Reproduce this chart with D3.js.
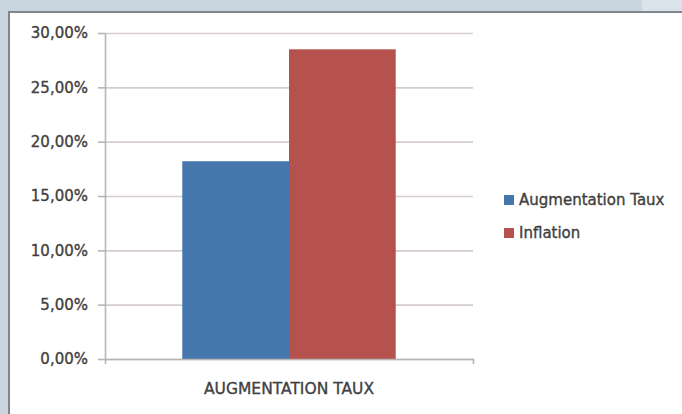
<!DOCTYPE html>
<html>
<head>
<meta charset="utf-8">
<script src="https://cdn.jsdelivr.net/npm/d3@7"></script>
<style>
  html, body { margin: 0; padding: 0; background: #c9d6df; overflow: hidden; }
  text { font-family: "DejaVu Sans", sans-serif; fill: #404040; stroke: #404040; stroke-width: 0.35px; }
</style>
</head>
<body>
<div id="chart"></div>
<script>
var width = 682,
    height = 414;

// data
var categories = ["AUGMENTATION TAUX"];
var seriesNames = ["Augmentation Taux", "Inflation"];
var seriesValues = [[0.182], [0.285]];
var seriesColors = ["#4577ad", "#b5524d"];
var yTicks = [0, 0.05, 0.10, 0.15, 0.20, 0.25, 0.30];

var frLocale = d3.formatLocale({ decimal: ",", thousands: " ", grouping: [3], currency: ["", " €"] });
var pct = frLocale.format(".2%");

var svg = d3.select("#chart").append("svg")
  .attr("width", width)
  .attr("height", height);

// backdrop: lighter patch top right, white chart panel with grey frame
svg.append("rect")
  .attr("x", 642).attr("y", 0)
  .attr("width", width - 642).attr("height", 12)
  .style("fill", "#dae3e9");

svg.append("rect")
  .attr("x", 9).attr("y", 12)
  .attr("width", width + 20).attr("height", height + 20)
  .style("fill", "#ffffff")
  .style("stroke", "#80868a")
  .style("stroke-width", 2);

var plot = { left: 105, right: 473, top: 33, bottom: 359 };

var y = d3.scaleLinear()
  .domain([0, 0.30])
  .range([plot.bottom, plot.top]);

var x0 = d3.scaleBand()
  .domain(categories)
  .range([plot.left, plot.right])
  .paddingInner(0.42)
  .paddingOuter(0.21);

var x1 = d3.scaleBand()
  .domain(seriesNames)
  .range([0, x0.bandwidth()]);

// gridlines
var grid = svg.append("g")
  .attr("transform", "translate(" + plot.left + ",0)")
  .call(d3.axisLeft(y).tickValues(yTicks).tickSize(-(plot.right - plot.left)).tickFormat(""));
grid.select(".domain").remove();
grid.selectAll("line")
  .style("stroke", "#d5cccb")
  .style("stroke-width", 1.6);

// bars
var rows = [];
categories.forEach(function(c, ci) {
  seriesNames.forEach(function(s, si) {
    rows.push({ cat: c, series: s, value: seriesValues[si][ci], color: seriesColors[si] });
  });
});

svg.selectAll("rect.bar")
  .data(rows)
  .enter()
  .append("rect")
  .attr("class", "bar")
  .attr("x", function(d) { return x0(d.cat) + x1(d.series); })
  .attr("y", function(d) { return y(d.value); })
  .attr("width", x1.bandwidth())
  .attr("height", function(d) { return y(0) - y(d.value); })
  .style("fill", function(d) { return d.color; });

// y axis
var yAxis = svg.append("g")
  .attr("transform", "translate(" + plot.left + ",0)")
  .call(d3.axisLeft(y).tickValues(yTicks).tickSize(7).tickSizeOuter(0).tickPadding(10).tickFormat(pct));
yAxis.select(".domain").style("stroke", "#bab3b3").style("stroke-width", 1.6);
yAxis.selectAll("line").style("stroke", "#bab3b3").style("stroke-width", 1.6);
yAxis.selectAll("text")
  .style("font-size", "15px")
  .style("font-family", "DejaVu Sans, sans-serif")
  .style("fill", "#404040");

// x axis
var xAxis = svg.append("g")
  .attr("transform", "translate(0," + plot.bottom + ")")
  .call(d3.axisBottom(x0).tickSize(0).tickSizeOuter(5).tickPadding(24));
xAxis.select(".domain").style("stroke", "#bab3b3").style("stroke-width", 1.6);
xAxis.selectAll("text")
  .style("font-size", "15.5px")
  .style("font-family", "DejaVu Sans, sans-serif")
  .style("fill", "#404040");

// legend
var legend = svg.selectAll("g.legend")
  .data(seriesNames)
  .enter()
  .append("g")
  .attr("class", "legend")
  .attr("transform", function(d, i) { return "translate(504," + (200 + i * 33) + ")"; });

legend.append("rect")
  .attr("x", 0).attr("y", -5)
  .attr("width", 10).attr("height", 10)
  .style("fill", function(d, i) { return seriesColors[i]; });

legend.append("text")
  .attr("x", 15)
  .attr("dy", "0.35em")
  .style("font-size", "15px")
  .text(function(d) { return d; });
</script>
</body>
</html>
